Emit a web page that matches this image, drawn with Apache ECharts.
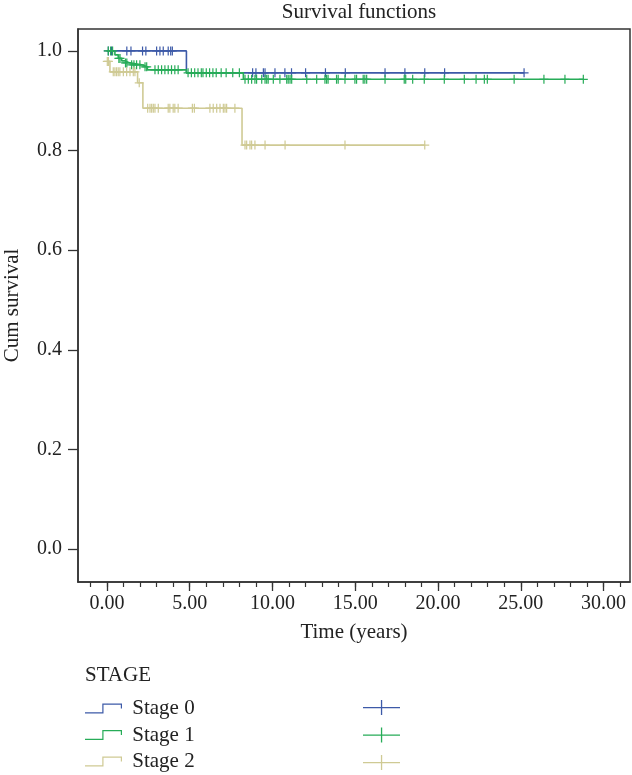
<!DOCTYPE html>
<html><head><meta charset="utf-8">
<script src="https://cdn.jsdelivr.net/npm/echarts@6/dist/echarts.min.js"></script>
<style>html,body{margin:0;padding:0;background:#fff}#c{width:632px;height:775px}</style>
</head><body><div id="c"></div>
<script>
const stageNames = ['Stage 0', 'Stage 1', 'Stage 2'];
const xTickLabels = [0, 5, 10, 15, 20, 25, 30];
const xMinorTicks = [-1,0,1,2,3,4,5,6,7,8,9,10,11,12,13,14,15,16,17,18,19,20,21,22,23,24,25,26,27,28,29,30,31];
const yTickLabels = [0, 0.2, 0.4, 0.6, 0.8, 1.0];

// Kaplan-Meier step points (time, cumulative survival)
const stage0Times = [0, 4.8, 25.2];
const stage0Surv  = [1.0, 0.956, 0.956];
const stage0Censored = [0.08,0.28,1.2,1.45,2.15,2.35,3.0,3.2,3.4,3.7,3.85,3.95,8.8,9.0,9.45,9.55,10.15,10.75,11.15,12.0,13.2,14.4,16.8,18.0,19.2,20.4,25.2];

const stage1Times = [0, 0.48, 0.68, 0.89, 1.09, 1.39, 2.1, 2.44, 4.8, 8.24, 28.8];
const stage1Surv  = [1.0, 0.992, 0.985, 0.980, 0.976, 0.972, 0.968, 0.962, 0.956, 0.943, 0.943];
const stage1Censored = [0.08,0.22,0.34,0.72,0.79,1.12,1.2,1.49,1.63,1.79,1.99,2.3,2.4,2.9,3.1,3.3,3.5,3.7,3.9,4.1,4.3,4.9,5.1,5.3,5.5,5.7,5.8,6.0,6.2,6.4,6.6,6.9,7.2,7.6,8.0,
  8.34,8.54,8.74,8.94,9.04,9.35,9.55,9.65,9.74,10.05,10.45,10.86,10.95,11.06,11.16,12.07,12.67,13.17,13.27,13.36,13.87,13.97,14.38,14.98,15.08,15.48,15.58,15.69,16.8,17.96,18.05,18.47,19.17,20.38,21.59,22.3,22.8,22.98,24.6,26.4,27.67,28.78];

const stage2Times = [0, 0.18, 1.85, 2.17, 8.16, 19.2];
const stage2Surv  = [0.979, 0.958, 0.936, 0.885, 0.811, 0.811];
const stage2Censored = [0.02,0.09,0.38,0.48,0.58,0.68,0.78,0.99,1.19,1.39,1.59,1.69,1.95,2.46,2.6,2.7,2.8,2.9,3.1,3.7,3.8,4.0,4.1,4.3,5.16,5.28,6.22,6.42,6.63,6.83,7.03,7.13,7.23,7.73,
  8.34,8.44,8.64,8.74,8.94,9.55,10.76,14.38,19.2];

const colors = ['#3d5aa8', '#27ac58', '#cfca94'];
const FONT = 'Liberation Serif';

function stepData(times, surv) { return times.map((t, i) => [t, surv[i]]); }
function survAt(times, surv, t) {
  let s = surv[0];
  for (let i = 0; i < times.length; i++) if (times[i] <= t) s = surv[i];
  return s;
}
function censorData(ct, times, surv) { return ct.map(t => [t, survAt(times, surv, t)]); }

const plusSym = 'path://M0,3.9H9V5.1H0Z M3.9,0H5.1V9H3.9Z';
const plusLegend = 'path://M0,7H37V8.3H0Z M17.9,0H19.2V15H17.9Z';
const stepIcon = 'path://M0,8.8H17.3V0H37V5H35.8V1.2H18.5V10H0Z';

const lines = [[stage0Times, stage0Surv, stage0Censored],[stage1Times, stage1Surv, stage1Censored],[stage2Times, stage2Surv, stage2Censored]];
const series = [];
lines.forEach((l, i) => {
  series.push({
    name: stageNames[i], type: 'line', step: 'end', showSymbol: false, symbol: 'none',
    data: stepData(l[0], l[1]), lineStyle: { color: colors[i], width: 1.6 }, itemStyle: { color: colors[i] },
    z: 2 + i, silent: true, xAxisIndex: 0, yAxisIndex: 0
  });
});
lines.forEach((l, i) => {
  series.push({
    name: stageNames[i] + ' censored', type: 'scatter', symbol: plusSym, symbolSize: [9, 9],
    data: censorData(l[2], l[0], l[1]), itemStyle: { color: colors[i], opacity: 1 },
    z: 5 + i, silent: true, xAxisIndex: 0, yAxisIndex: 0
  });
});

const chart = echarts.init(document.getElementById('c'), null, { renderer: 'canvas' });
chart.setOption({
  animation: false,
  backgroundColor: '#fff',
  textStyle: { fontFamily: FONT },
  title: [
    { text: 'Survival functions', left: 354, top: -3, textAlign: 'center',
      textStyle: { fontFamily: FONT, fontSize: 21, fontWeight: 'normal', color: '#222' } },
    { text: 'STAGE', left: 80, top: 660,
      textStyle: { fontFamily: FONT, fontSize: 21, fontWeight: 'normal', color: '#222' } }
  ],
  grid: { left: 78, right: 2, top: 29, bottom: 193, show: true, borderColor: '#333', borderWidth: 1.5,
          containLabel: false, outerBoundsMode: 'none' },
  xAxis: [
    { type: 'value', min: -1.75, max: 31.6, position: 'bottom',
      axisLine: { show: true, onZero: false, lineStyle: { color: '#333', width: 1.5 } },
      axisTick: { show: true, inside: false, customValues: xTickLabels, length: 9, lineStyle: { color: '#333', width: 1.3 } },
      axisLabel: { customValues: xTickLabels, formatter: v => v.toFixed(2), fontFamily: FONT, fontSize: 20, color: '#222', margin: 12 },
      splitLine: { show: false },
      name: 'Time (years)', nameLocation: 'middle', nameGap: 40,
      nameTextStyle: { fontFamily: FONT, fontSize: 21, color: '#222' } },
    { type: 'value', min: -1.75, max: 31.6, position: 'bottom',
      axisLine: { show: false, onZero: false },
      axisTick: { show: true, inside: false, customValues: xMinorTicks, length: 5, lineStyle: { color: '#333', width: 1.2 } },
      axisLabel: { show: false }, splitLine: { show: false } }
  ],
  yAxis: [
    { type: 'value', min: -0.066, max: 1.044,
      axisLine: { show: true, onZero: false, lineStyle: { color: '#333', width: 1.5 } },
      axisTick: { show: true, customValues: yTickLabels, length: 10, lineStyle: { color: '#333', width: 1.3 } },
      axisLabel: { customValues: yTickLabels, formatter: v => v.toFixed(1), fontFamily: FONT, fontSize: 20, color: '#222', margin: 16 },
      splitLine: { show: false },
      name: 'Cum survival', nameLocation: 'middle', nameGap: 55, nameRotate: 90,
      nameTextStyle: { fontFamily: FONT, fontSize: 21, color: '#222' } }
  ],
  legend: [
    { orient: 'vertical', left: 80, top: 693, height: 82, itemWidth: 37, itemHeight: 10, itemGap: 5.5,
      data: stageNames.map(n => ({ name: n, icon: stepIcon })),
      formatter: n => ' ' + n,
      textStyle: { fontFamily: FONT, fontSize: 21, color: '#222', lineHeight: 21 },
      selectedMode: false },
    { orient: 'vertical', left: 358, top: 695, height: 80, itemWidth: 37, itemHeight: 15, itemGap: 12.5,
      data: stageNames.map(n => ({ name: n + ' censored', icon: plusLegend })),
      formatter: () => '',
      textStyle: { fontSize: 10, lineHeight: 15 },
      selectedMode: false }
  ],
  series: series
});
</script></body></html>
